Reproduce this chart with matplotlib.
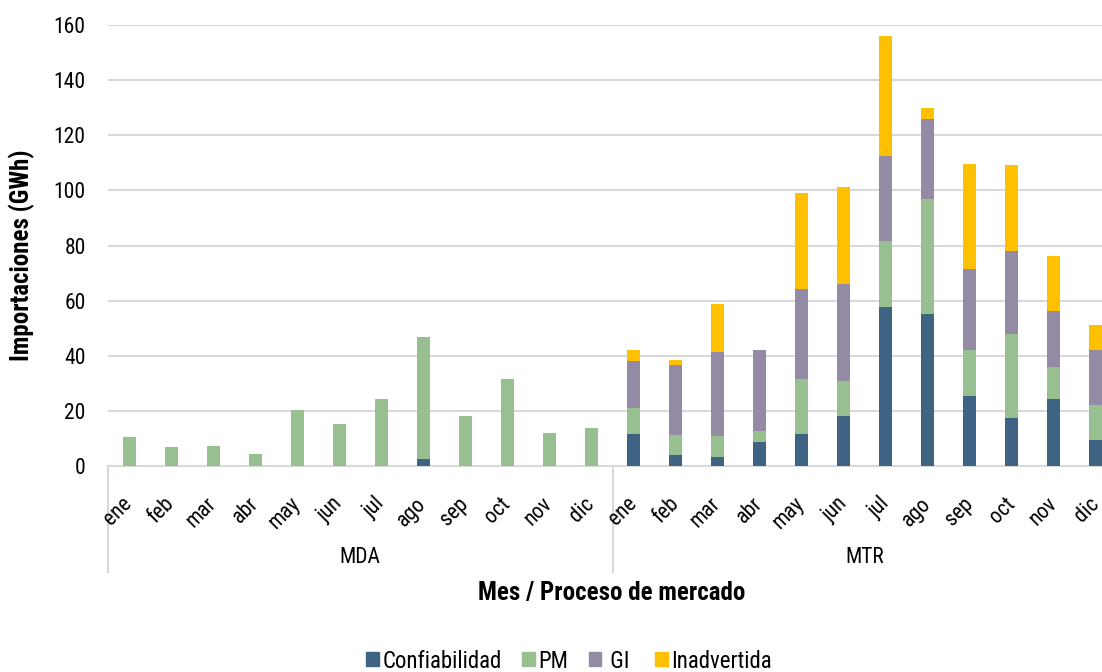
import matplotlib
matplotlib.use('Agg')
import matplotlib.pyplot as plt
import matplotlib.transforms as mtransforms
from matplotlib.patches import Patch
from matplotlib import font_manager as fm
import numpy as np

names = set(f.name for f in fm.fontManager.ttflist)
fam = [n for n in ['Liberation Sans Narrow', 'Roboto Condensed', 'DejaVu Sans Condensed'] if n in names]
plt.rcParams['font.family'] = fam + ['Liberation Sans', 'DejaVu Sans']
plt.rcParams['font.stretch'] = 'condensed'

months = ['ene', 'feb', 'mar', 'abr', 'may', 'jun', 'jul', 'ago', 'sep', 'oct', 'nov', 'dic']
groups = ['MDA', 'MTR']
series_names = ['Confiabilidad', 'PM', ' GI ', 'Inadvertida']

# segment heights (GWh), MDA months then MTR months
conf = [0, 0, 0, 0, 0, 0, 0, 2.5, 0, 0, 0, 0,
        11.5, 4.0, 3.1, 8.7, 11.5, 18.0, 57.6, 55.2, 25.4, 17.5, 24.4, 9.6]
pm = [10.5, 6.8, 7.3, 4.5, 20.3, 15.2, 24.4, 44.3, 18.0, 31.5, 12.0, 13.8,
      9.7, 7.4, 7.9, 4.1, 19.9, 13.0, 24.0, 41.8, 16.7, 30.3, 11.6, 12.5]
gi = [0] * 12 + [16.8, 25.1, 30.2, 29.3, 32.7, 34.9, 30.9, 28.9, 29.4, 30.2, 20.1, 20.1]
inad = [0] * 12 + [4.1, 2.0, 17.6, 0, 34.8, 35.3, 43.6, 4.1, 38.1, 31.1, 20.0, 8.8]

colors = ['#3f6382', '#97bf8f', '#948aa5', '#ffc000']
grid_c = '#d9d9d9'

fig = plt.figure(figsize=(11.02, 6.72), dpi=100)
ax = fig.add_axes([108 / 1102, 206 / 672, 1009 / 1102, 441 / 672])

x = np.arange(len(conf))
bottom = np.zeros(len(conf))
for vals, c, name in zip([conf, pm, gi, inad], colors, series_names):
    ax.bar(x, vals, 0.31, bottom=bottom, color=c, label=name, zorder=3)
    bottom += np.array(vals)

ax.set_xlim(-0.5, len(conf) - 0.5)
ax.set_ylim(0, 160)
ax.set_yticks(range(0, 161, 20))
ax.yaxis.grid(True, color=grid_c, lw=1.5, zorder=0)
ax.tick_params(axis='y', length=0, labelsize=15.5, pad=16, colors='#000000')
ax.set_xticks([])
for s in ['top', 'right', 'left']:
    ax.spines[s].set_visible(False)
ax.spines['bottom'].set_color(grid_c)
ax.spines['bottom'].set_linewidth(1.5)

trans = mtransforms.blended_transform_factory(ax.transData, ax.transAxes)
labels = months * len(groups)
for i, lab in enumerate(labels):
    ax.text(i - 0.18, -0.062, lab, transform=trans, rotation=45, ha='right', va='top',
            rotation_mode='anchor', fontsize=15.5)

for sx in [-0.5, 11.5, 23.5]:
    ax.plot([sx, sx], [0, -0.24], transform=trans, color=grid_c, lw=1.5, clip_on=False)

for k, g in enumerate(groups):
    ax.text(k * 12 + 5.5, -0.207, g, transform=trans, ha='center', va='center', fontsize=15.5)

fig.text(612 / 1102, 1 - 593 / 672, 'Mes / Proceso de mercado', ha='center', va='center',
         fontsize=18, fontweight='bold')
fig.text(22 / 1102, 1 - 255 / 672, 'Importaciones (GWh)', ha='center', va='center',
         rotation=90, fontsize=18, fontweight='bold')

handles = [Patch(color=c) for c in colors]
fig.legend(handles, series_names, loc='center', bbox_to_anchor=(569 / 1102, 1 - 661 / 672),
           ncol=4, frameon=False, fontsize=16.5, handlelength=0.55, handleheight=0.55,
           handletextpad=0.15, columnspacing=0.9)

plt.savefig('out.png', dpi=100)
